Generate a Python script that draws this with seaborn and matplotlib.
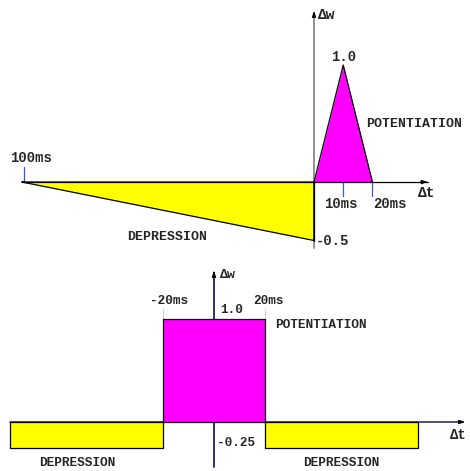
import matplotlib
matplotlib.use("Agg")
import matplotlib.pyplot as plt
import seaborn as sns
import pandas as pd

# asymmetric STDP window (top)
dep_t = [-100, 0]
dep_w = [0, -0.5]
pot_t = [0, 10, 20]
pot_w = [0, 1.0, 0]

# symmetric window (bottom)
sym_pot_t = [-20, 20]
sym_pot_w = 1.0
sym_dep_left_t = [-80, -20]
sym_dep_right_t = [20, 80]
sym_dep_w = -0.25

sns.set_style("white")
plt.rcParams['font.family'] = ['Liberation Mono', 'DejaVu Sans Mono']
plt.rcParams['font.weight'] = 'bold'

GRAY = "#8a8a8a"
NAVY = "#2e2e80"
BLUE = "#3a55d8"
YEL = "#ffff00"
MAG = "#ff00ff"

fig = plt.figure(figsize=(4.70, 4.71), dpi=100)

# ---------------- top panel ----------------
ax1 = fig.add_axes([0, 221 / 471, 1, 250 / 471])
ax1.set_xlim(-107.5, 53.4)
ax1.set_ylim(-0.581, 1.556)
ax1.axis("off")

ax1.fill_between(dep_t, dep_w, 0, color=YEL, lw=0)
ax1.fill_between(pot_t, pot_w, 0, color=MAG, lw=0)

# axes
ax1.plot([0, 0], [-0.564, 1.44], color=GRAY, lw=1.3, zorder=2)
ax1.annotate("", xy=(0, 1.487), xytext=(0, 1.40),
             arrowprops=dict(arrowstyle="-|>,head_length=0.35,head_width=0.12",
                             color="black", lw=0.8))
ax1.plot([-100, 39], [0, 0], color="black", lw=0.9, zorder=3)
ax1.annotate("", xy=(39.9, 0), xytext=(36, 0),
             arrowprops=dict(arrowstyle="-|>,head_length=0.35,head_width=0.12",
                             color="black", lw=0.8))

# outlines
top_df = pd.DataFrame({"t": dep_t + [0, -100], "w": dep_w + [0, 0]})
sns.lineplot(data=top_df, x="t", y="w", sort=False, color="black", lw=0.9,
             estimator=None, ax=ax1, zorder=4)
sns.lineplot(x=pot_t, y=pot_w, sort=False, color="black", lw=0.9,
             estimator=None, ax=ax1, zorder=4)
ax1.plot([0, 0], [-0.5, 0], color="black", lw=0.9, zorder=4)

# blue ticks
ax1.plot([dep_t[0] + 0.6, dep_t[0] + 0.6], [0, 0.13], color=BLUE, lw=0.9)
for tt in [10, 20]:
    ax1.plot([tt, tt], [0, -0.12], color=BLUE, lw=0.9)

fs = 9.5
ax1.text(1.4, 1.43, "Δw", fontsize=10.5, ha="left", va="center")
ax1.text(10, 1.07, "1.0", fontsize=10, ha="center", va="center")
ax1.text(17.8, 0.50, "POTENTIATION", fontsize=fs, ha="left", va="center")
ax1.text(-96.9, 0.205, "100ms", fontsize=10, ha="center", va="center")
ax1.text(9.2, -0.19, "10ms", fontsize=10, ha="center", va="center")
ax1.text(26, -0.19, "20ms", fontsize=10, ha="center", va="center")
ax1.text(35.6, -0.094, "Δt", fontsize=10.5, ha="left", va="center")
ax1.text(-50.3, -0.47, "DEPRESSION", fontsize=fs, ha="center", va="center")
ax1.text(0.6, -0.50, "-0.5", fontsize=10, ha="left", va="center")

# ---------------- bottom panel ----------------
ax2 = fig.add_axes([0, 0, 1, 221 / 471])
ax2.set_xlim(-83.9, 100.4)
ax2.set_ylim(-0.476, 1.67)
ax2.axis("off")

ax2.plot([-80, 96], [0, 0], color=NAVY, lw=1.2, zorder=2)
ax2.annotate("", xy=(99.6, 0), xytext=(95, 0),
             arrowprops=dict(arrowstyle="-|>,head_length=0.35,head_width=0.12",
                             color="black", lw=0.8))
ax2.plot([0, 0], [-0.437, 1.45], color=NAVY, lw=1.4, zorder=2)
ax2.annotate("", xy=(0, 1.495), xytext=(0, 1.42),
             arrowprops=dict(arrowstyle="-|>,head_length=0.35,head_width=0.12",
                             color="black", lw=0.8))

ax2.fill_between(sym_pot_t, sym_pot_w, 0, color=MAG, lw=0, zorder=3)
ax2.fill_between(sym_dep_left_t, sym_dep_w, 0, color=YEL, lw=0, zorder=3)
ax2.fill_between(sym_dep_right_t, sym_dep_w, 0, color=YEL, lw=0, zorder=3)

for t_pair, w in [(sym_pot_t, sym_pot_w), (sym_dep_left_t, sym_dep_w),
                  (sym_dep_right_t, sym_dep_w)]:
    a, b = t_pair
    sns.lineplot(x=[a, a, b, b, a], y=[0, w, w, 0, 0], sort=False,
                 estimator=None, color="black", lw=0.9, ax=ax2, zorder=4)

for tt in sym_pot_t:
    ax2.plot([tt, tt], [sym_pot_w, 1.107], color="#aaaaaa", lw=0.8, ls=(0, (1, 1)))

fs2 = 9.2
ax2.text(2.4, 1.43, "Δw", fontsize=9.5, ha="left", va="center")
ax2.text(-17.6, 1.17, "-20ms", fontsize=fs2, ha="center", va="center")
ax2.text(21.2, 1.17, "20ms", fontsize=fs2, ha="center", va="center")
ax2.text(7.1, 1.09, "1.0", fontsize=fs2, ha="center", va="center")
ax2.text(23.9, 0.94, "POTENTIATION", fontsize=fs2, ha="left", va="center")
ax2.text(1.2, -0.20, "-0.25", fontsize=fs2, ha="left", va="center")
ax2.text(-53.7, -0.40, "DEPRESSION", fontsize=fs2, ha="center", va="center")
ax2.text(49.8, -0.40, "DEPRESSION", fontsize=fs2, ha="center", va="center")
ax2.text(92.6, -0.13, "Δt", fontsize=10, ha="left", va="center")

fig.savefig("out.png", dpi=100)
